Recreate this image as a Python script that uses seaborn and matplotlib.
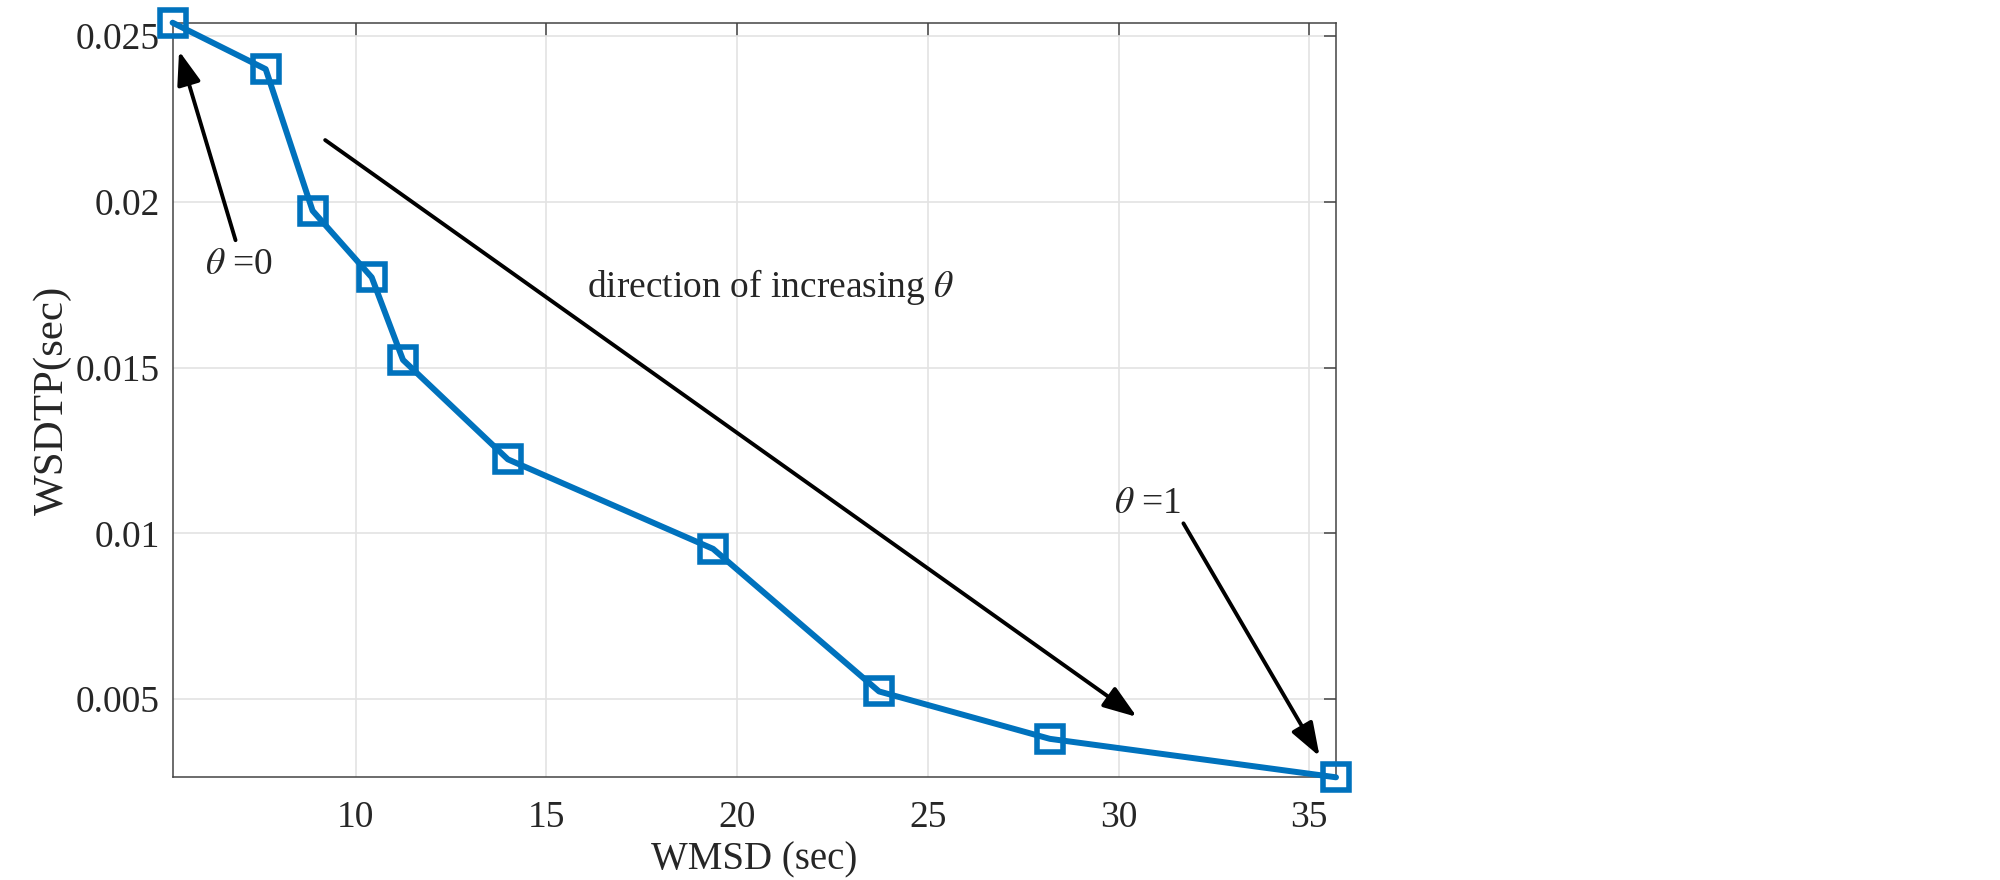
import matplotlib
matplotlib.use("Agg")
import matplotlib.pyplot as plt
import seaborn as sns
import pandas as pd

# trade-off curve (theta from 0 to 1)
wmsd = [5.2, 7.64, 8.87, 10.42, 11.24, 13.99, 19.37, 23.72, 28.2, 35.7]
wsdtp = [0.0254, 0.0240, 0.01973, 0.01772, 0.01523, 0.01223, 0.00953, 0.00523, 0.0038, 0.00264]
yticks = [0.005, 0.01, 0.015, 0.02, 0.025]
ytick_labels = ['0.005', '0.01', '0.015', '0.02', '0.025']
xticks = [10, 15, 20, 25, 30, 35]

df = pd.DataFrame({'WMSD': wmsd, 'WSDTP': wsdtp})

sns.set_theme(style='whitegrid')
plt.rcParams['font.family'] = ['Liberation Serif', 'DejaVu Serif']
plt.rcParams['mathtext.fontset'] = 'stix'

blue = '#0072BD'
axcol = '#262626'

fig = plt.figure(figsize=(20, 8.8), dpi=100)
ax = fig.add_axes([0.0863, 0.1167, 0.668 - 0.0863, 0.9742 - 0.1167])

sns.lineplot(data=df, x='WMSD', y='WSDTP', ax=ax, color=blue, linewidth=4.3,
             marker='s', markersize=19, markerfacecolor='none',
             markeredgecolor=blue, markeredgewidth=4, clip_on=False, zorder=5)

ax.set_xlim(wmsd[0], wmsd[-1])
ax.set_ylim(wsdtp[-1], wsdtp[0])
ax.set_xticks(xticks)
ax.set_yticks(yticks)
ax.set_yticklabels(ytick_labels)

ax.set_facecolor('white')
ax.grid(True, color='#e3e3e3', linewidth=1.2)
for s in ax.spines.values():
    s.set_color('#444444')
    s.set_linewidth(1.1)
    s.set_visible(True)
ax.tick_params(direction='in', length=9, width=1.1, color='#444444', labelcolor=axcol,
               labelsize=27, top=True, right=True)
ax.tick_params(axis='x', pad=17)
ax.tick_params(axis='y', pad=9)

ax.set_xlabel('WMSD (sec)', fontsize=28, color=axcol, labelpad=4)
ax.set_ylabel('WSDTP(sec)', fontsize=31, color=axcol, labelpad=3)

arrow_kw = dict(arrowstyle='-|>,head_length=1.7,head_width=0.6', color='black',
                lw=2.8, shrinkA=0, shrinkB=0)

ax.annotate('', xy=(5.37, 0.02455), xytext=(6.85, 0.01884), arrowprops=arrow_kw)
ax.text(6.94, 0.01809, r'$\theta$ =0', fontsize=27, ha='center', va='center')

ax.annotate('', xy=(30.48, 0.00446), xytext=(9.2, 0.02186), arrowprops=arrow_kw)
ax.text(20.87, 0.01743, r'direction of increasing $\theta$', fontsize=27,
        ha='center', va='center')

ax.annotate('', xy=(35.27, 0.00327), xytext=(31.7, 0.0103), arrowprops=arrow_kw)
ax.text(30.75, 0.0109, r'$\theta$ =1', fontsize=27, ha='center', va='center')

fig.savefig('out.png', dpi=100)
